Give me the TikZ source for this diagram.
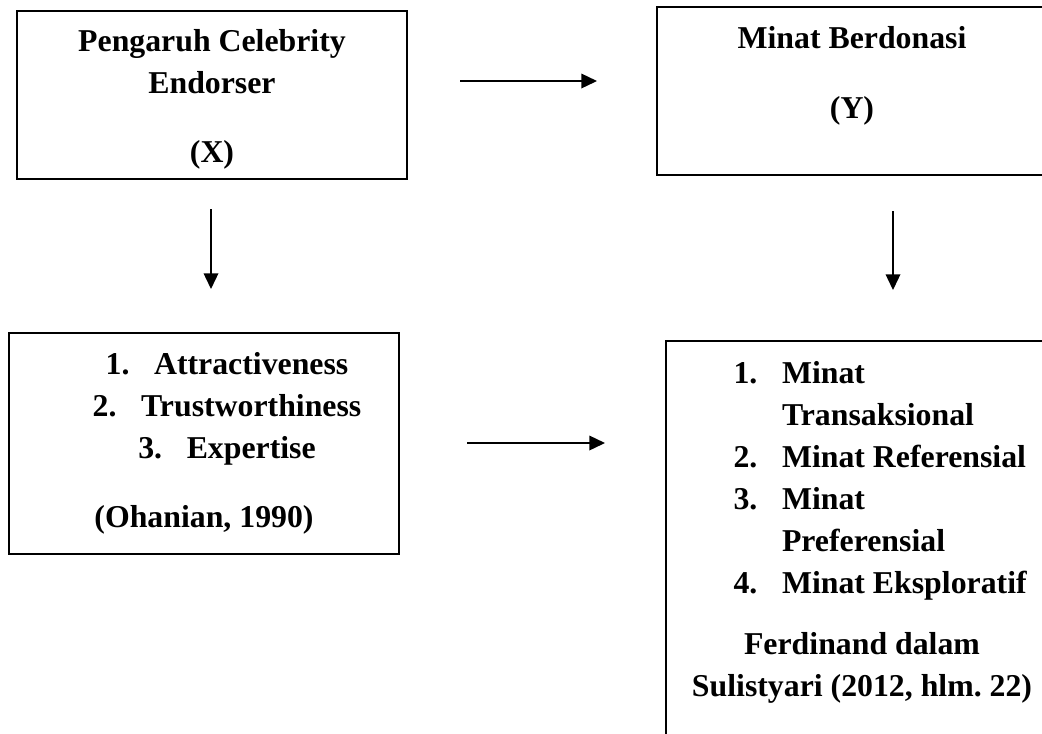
\documentclass[tikz,border=0pt]{standalone}
\usepackage{fontspec}
\setmainfont{Liberation Serif}
\usetikzlibrary{arrows.meta}
\newcommand{\numbox}[1]{\makebox[18.3pt][l]{#1}}

\begin{document}
\begin{tikzpicture}[
  x=0.3774pt, y=-0.3774pt,
  vbox/.style={draw, line width=0.75pt, minimum width=147.2pt, inner sep=0pt},
  txt/.style={inner sep=0pt, anchor=base, align=center,
              font=\fontsize{12}{15.8}\selectfont\bfseries},
  flow/.style={-{Triangle[length=5.9pt,width=5.5pt]}, line width=0.6pt}
]
  \useasboundingbox (0,0) rectangle (1042,733);
  \clip (0,0) rectangle (1042,733);

  % boxes
  \node[vbox, minimum height=63.4pt]  (bx) at (212,95)    {};
  \node[vbox, minimum height=63.4pt]  (by) at (852,91)    {};
  \node[vbox, minimum height=83.4pt]  (bl) at (204,443.5) {};
  \node[vbox, minimum height=165.7pt] (br) at (861,560.5) {};

  % texts (placed at the baseline of their last line)
  \node[txt] (tx) at (212,162) {Pengaruh Celebrity\\Endorser\\[10.2pt](X)};
  \node[txt] (ty) at (852,118) {Minat Berdonasi\\[10.6pt](Y)};
  \node[txt] (tl) at (227,458)
    {\numbox{1.}Attractiveness\\\numbox{2.}Trustworthiness\\\numbox{3.}Expertise};
  \node[txt] (cl) at (204,527) {(Ohanian, 1990)};
  \node[txt, align=left, anchor=base west] (tr) at (733,593)
    {\numbox{1.}Minat\\\hspace*{18.3pt}Transaksional\\
     \numbox{2.}Minat Referensial\\\numbox{3.}Minat\\
     \hspace*{18.3pt}Preferensial\\\numbox{4.}Minat Eksploratif};
  \node[txt] (cr) at (862,696) {Ferdinand dalam\\Sulistyari (2012, hlm.~22)};

  % connectors
  \coordinate (a1s) at (460,81);  \coordinate (a1e) at (597,81);
  \coordinate (a2s) at (211,209); \coordinate (a2e) at (211,289);
  \coordinate (a3s) at (893,211); \coordinate (a3e) at (893,290);
  \coordinate (a4s) at (467,443); \coordinate (a4e) at (605,443);
  \draw[flow] (a1s) -- (a1e);
  \draw[flow] (a2s) -- (a2e);
  \draw[flow] (a3s) -- (a3e);
  \draw[flow] (a4s) -- (a4e);
\end{tikzpicture}
\end{document}
